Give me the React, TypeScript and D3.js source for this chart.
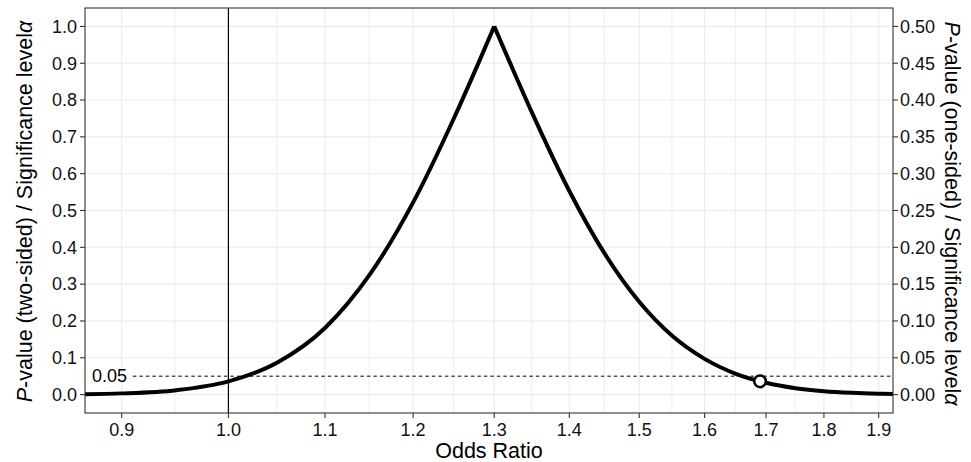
import * as d3 from "d3";

const orValues = [
  0.868, 0.9, 0.95, 1.0, 1.05, 1.1, 1.15, 1.2, 1.25, 1.28, 1.3,
  1.32, 1.35, 1.4, 1.45, 1.5, 1.55, 1.6, 1.65, 1.7, 1.75, 1.8, 1.85, 1.9, 1.927,
];
const pTwoSided = [
  0.0012, 0.0033, 0.012, 0.036, 0.088, 0.181, 0.327, 0.522, 0.754, 0.901, 1.0,
  0.903, 0.763, 0.553, 0.382, 0.252, 0.159, 0.097, 0.0565, 0.032, 0.0174, 0.0092, 0.0048, 0.0024, 0.0016,
];

const peakOR = 1.3;
const nullOR = 1.0;
const alpha = 0.05;
const markerOR = 1.69;
const markerP = 0.036;

const xTicks = [0.9, 1.0, 1.1, 1.2, 1.3, 1.4, 1.5, 1.6, 1.7, 1.8, 1.9];
const yTicks = [0, 0.1, 0.2, 0.3, 0.4, 0.5, 0.6, 0.7, 0.8, 0.9, 1.0];
const yRightTicks = [0, 0.05, 0.1, 0.15, 0.2, 0.25, 0.3, 0.35, 0.4, 0.45, 0.5];

const W = 971;
const H = 462;
const margin = { top: 8, right: 78, bottom: 49, left: 85 };
const FONT = "Arial, 'Liberation Sans', sans-serif";

export default function App() {
  const left = margin.left;
  const right = W - margin.right;
  const top = margin.top;
  const bottom = H - margin.bottom;

  const x = d3.scaleLog().domain([0.868, 1.927]).range([left, right]);
  const y = d3.scaleLinear().domain([-0.05, 1.05]).range([bottom, top]);
  const yRight = d3.scaleLinear().domain([-0.025, 0.525]).range([bottom, top]);

  const pts = orValues.map((o, i) => ({ or: o, p: pTwoSided[i] }));
  const leftSide = pts.filter((d) => d.or <= peakOR);
  const rightSide = pts.filter((d) => d.or >= peakOR);

  const line = d3
    .line<{ or: number; p: number }>()
    .x((d) => x(d.or))
    .y((d) => y(d.p))
    .curve(d3.curveMonotoneX);

  // minor breaks sit halfway between majors on the log scale
  const xMinor = xTicks.slice(1).map((t, i) => Math.sqrt(t * xTicks[i]));

  const fx = d3.format(".1f");
  const fy = d3.format(".1f");
  const fyr = d3.format(".2f");

  return (
    <svg
      width={W}
      height={H}
      style={{ position: "absolute", left: 0, top: 0, background: "#fff" }}
      fontFamily={FONT}
    >
      <defs>
        <clipPath id="panel">
          <rect x={left} y={top} width={right - left} height={bottom - top} />
        </clipPath>
      </defs>

      {/* grid */}
      <g>
        {xMinor.map((t) => (
          <line key={"mx" + t} x1={x(t)} x2={x(t)} y1={top} y2={bottom} stroke="#ebebeb" strokeWidth={0.8} />
        ))}
        {xTicks.map((t) => (
          <line key={"gx" + t} x1={x(t)} x2={x(t)} y1={top} y2={bottom} stroke="#ebebeb" strokeWidth={1.1} />
        ))}
        {yTicks.map((t) => (
          <line key={"gy" + t} x1={left} x2={right} y1={y(t)} y2={y(t)} stroke="#ebebeb" strokeWidth={1.1} />
        ))}
      </g>

      <g clipPath="url(#panel)">
        {/* null value */}
        <line x1={x(nullOR)} x2={x(nullOR)} y1={top} y2={bottom} stroke="#000" strokeWidth={1.2} />
        {/* significance level */}
        <line
          x1={x(0.91)}
          x2={right}
          y1={y(alpha)}
          y2={y(alpha)}
          stroke="#000"
          strokeWidth={1}
          strokeDasharray="3.5,3"
        />
        <path d={line(leftSide) ?? ""} fill="none" stroke="#000" strokeWidth={4} strokeLinejoin="round" />
        <path d={line(rightSide) ?? ""} fill="none" stroke="#000" strokeWidth={4} strokeLinejoin="round" />
        <circle cx={x(markerOR)} cy={y(markerP)} r={5.8} fill="#fff" stroke="#000" strokeWidth={2.5} />
      </g>

      <text x={x(0.874)} y={y(alpha)} dy="0.35em" fontSize={18} fill="#000">
        0.05
      </text>

      {/* panel border */}
      <rect x={left} y={top} width={right - left} height={bottom - top} fill="none" stroke="#333" strokeWidth={1.1} />

      {/* bottom axis */}
      <g>
        {xTicks.map((t) => (
          <g key={"tx" + t}>
            <line x1={x(t)} x2={x(t)} y1={bottom} y2={bottom + 5} stroke="#333" strokeWidth={1.1} />
            <text x={x(t)} y={bottom + 23} textAnchor="middle" fontSize={18} fill="#111">
              {fx(t)}
            </text>
          </g>
        ))}
        <text x={(left + right) / 2} y={457.5} textAnchor="middle" fontSize={21.5} fill="#000">
          Odds Ratio
        </text>
      </g>

      {/* left axis */}
      <g>
        {yTicks.map((t) => (
          <g key={"ty" + t}>
            <line x1={left - 5} x2={left} y1={y(t)} y2={y(t)} stroke="#333" strokeWidth={1.1} />
            <text x={left - 8} y={y(t)} dy="0.35em" textAnchor="end" fontSize={18} fill="#111">
              {fy(t)}
            </text>
          </g>
        ))}
        <text
          transform={`translate(31.5,${(top + bottom) / 2 + 1}) rotate(-90)`}
          textAnchor="middle"
          fontSize={21.5}
          fill="#000"
        >
          <tspan fontStyle="italic">P</tspan>-value (two-sided) / Significance level
          <tspan fontStyle="italic">α</tspan>
        </text>
      </g>

      {/* right axis */}
      <g>
        {yRightTicks.map((t) => (
          <g key={"tr" + t}>
            <line x1={right} x2={right + 5} y1={yRight(t)} y2={yRight(t)} stroke="#333" strokeWidth={1.1} />
            <text x={right + 7} y={yRight(t)} dy="0.35em" textAnchor="start" fontSize={18} fill="#111">
              {fyr(t)}
            </text>
          </g>
        ))}
        <text
          transform={`translate(945,${(top + bottom) / 2 + 3}) rotate(90)`}
          textAnchor="middle"
          fontSize={21.5}
          fill="#000"
        >
          <tspan fontStyle="italic">P</tspan>-value (one-sided) / Significance level
          <tspan fontStyle="italic">α</tspan>
        </text>
      </g>
    </svg>
  );
}
